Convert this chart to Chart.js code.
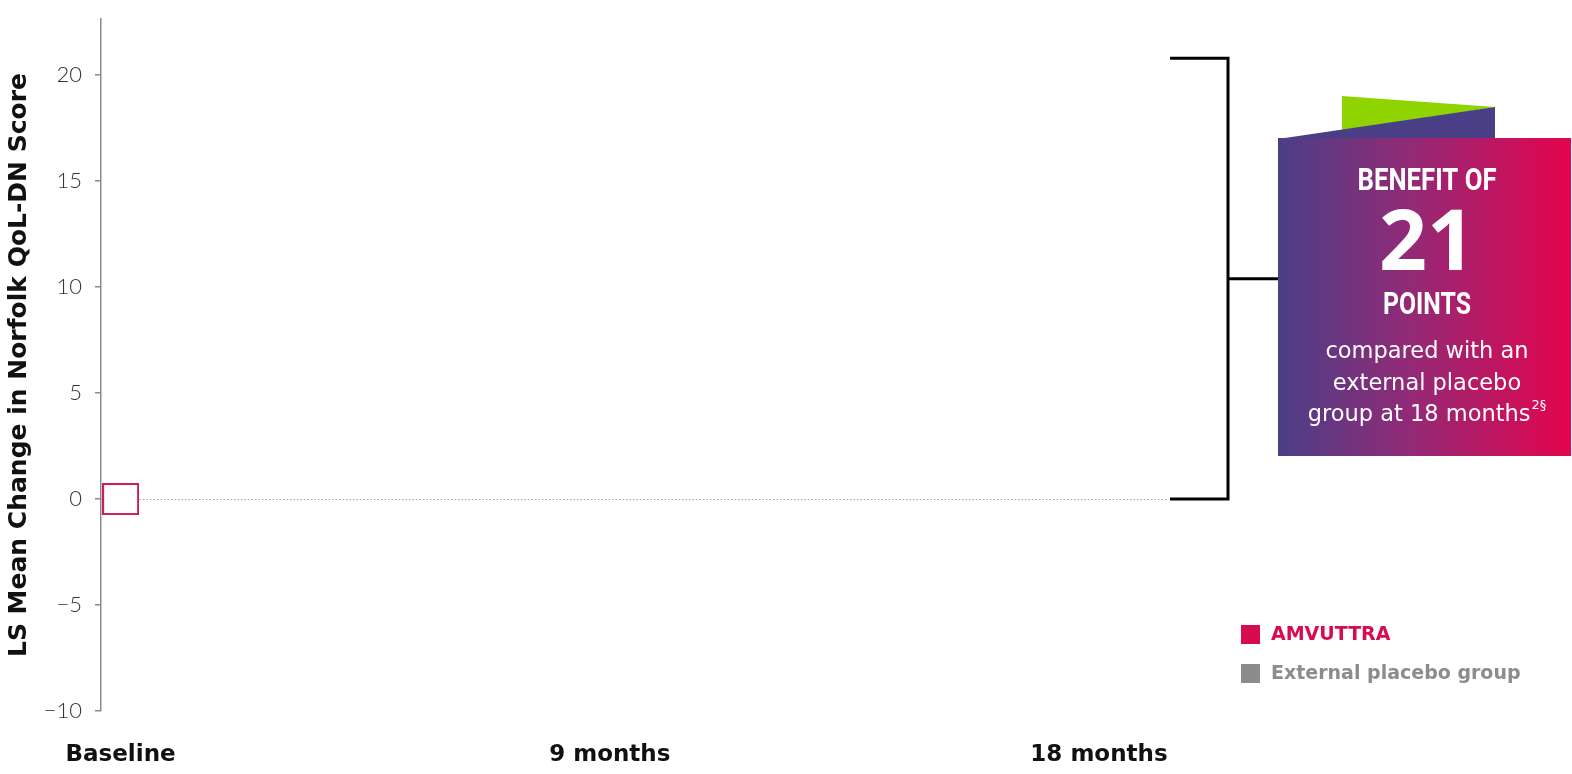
<!DOCTYPE html>
<html>
<head>
<meta charset="utf-8">
<script src="https://cdn.jsdelivr.net/npm/chart.js@4/dist/chart.umd.min.js"></script>
<style>
  html, body { margin: 0; padding: 0; background: #fff; overflow: hidden; }
  #wrap { width: 1572px; height: 774px; position: relative; }
</style>
</head>
<body>
<div id="wrap"><canvas id="grafico"></canvas></div>
<script>
// Dados
const categorias = ['Baseline', '9 months', '18 months'];
const meses = [0, 9, 18];
const amvuttra = [0, null, null];
const placeboExterno = [null, null, null];
const ticksY = [-10, -5, 0, 5, 10, 15, 20];
const faixaBeneficio = [0, 20.8];   // chave: do 0 até o topo
const legendaNomes = ['AMVUTTRA', 'External placebo group'];
const legendaCores = ['#d60b52', '#8c8c8c'];

const toPoints = (vals) => meses.map((m, i) => ({ x: m, y: vals[i] }));

// marcador: quadrado vazado um pouco mais largo que alto
function marcador(cor, cheio) {
    const c = document.createElement('canvas');
    c.width = 37; c.height = 32;
    const g = c.getContext('2d');
    g.fillStyle = cheio ? cor : '#fff';
    g.fillRect(1, 1, 35, 30);
    g.strokeStyle = cor;
    g.lineWidth = 2;
    g.strokeRect(1, 1, 35, 30);
    return c;
}

// Linha pontilhada no zero + chave + caixa + legenda
const anotacoes = {
    id: 'anotacoes',
    beforeDatasetsDraw(chart) {
        const { ctx, chartArea, scales: { y } } = chart;
        const y0 = y.getPixelForValue(0);
        ctx.save();
        ctx.strokeStyle = '#a0a0a0';
        ctx.lineWidth = 1;
        ctx.setLineDash([1.5, 2]);
        ctx.beginPath();
        ctx.moveTo(chartArea.left, y0 + 0.5);
        ctx.lineTo(chartArea.right, y0 + 0.5);
        ctx.stroke();
        ctx.restore();
    },
    afterDraw(chart) {
        const { ctx, chartArea, scales: { y } } = chart;
        const yTop = y.getPixelForValue(faixaBeneficio[1]);
        const yBot = y.getPixelForValue(faixaBeneficio[0]);
        const yMid = (yTop + yBot) / 2;
        const xa = chartArea.right + 2, xb = chartArea.right + 60, xc = chartArea.right + 112;

        // chave
        ctx.save();
        ctx.strokeStyle = '#000';
        ctx.lineWidth = 3;
        ctx.beginPath();
        ctx.moveTo(xa, yTop); ctx.lineTo(xb, yTop); ctx.lineTo(xb, yBot); ctx.lineTo(xa, yBot);
        ctx.moveTo(xb, yMid); ctx.lineTo(xc, yMid);
        ctx.stroke();
        ctx.restore();

        // caixa
        const bx = 1278, by = 138, bw = 293, bh = 318;
        ctx.save();
        ctx.fillStyle = '#8fd400';
        ctx.beginPath();
        ctx.moveTo(1342, 96); ctx.lineTo(1495, 107); ctx.lineTo(1342, 132); ctx.closePath();
        ctx.fill();
        ctx.fillStyle = '#4a3f87';
        ctx.beginPath();
        ctx.moveTo(bx, by + 1); ctx.lineTo(1495, 107); ctx.lineTo(1495, by + 1); ctx.closePath();
        ctx.fill();
        const grad = ctx.createLinearGradient(bx, 0, bx + bw, 0);
        grad.addColorStop(0, '#4a3f87');
        grad.addColorStop(0.45, '#922a76');
        grad.addColorStop(1, '#e5044e');
        ctx.fillStyle = grad;
        ctx.fillRect(bx, by, bw, bh);

        const cx = 1427;
        ctx.fillStyle = '#fff';
        ctx.textAlign = 'center';
        ctx.textBaseline = 'middle';
        const condensado = (txt, size, yy, largura) => {
            ctx.save();
            ctx.font = 'bold ' + size + 'px Roboto';
            const w = ctx.measureText(txt).width;
            ctx.translate(cx, yy);
            ctx.scale(largura / w, 1);
            ctx.fillText(txt, 0, 0);
            ctx.restore();
        };
        condensado('BENEFIT OF', 32, 182, 139);
        ctx.font = 'bold 84px "Open Sans"';
        ctx.fillText('21', cx, 246);
        condensado('POINTS', 32, 306, 88);
        ctx.font = '22.5px "DejaVu Sans"';
        ctx.fillText('compared with an', cx, 352);
        ctx.fillText('external placebo', cx, 384);
        ctx.textAlign = 'left';
        const w3 = ctx.measureText('group at 18 months').width;
        ctx.font = '13px "DejaVu Sans"';
        const ws = ctx.measureText('2§').width;
        const sx = cx - (w3 + ws + 1) / 2;
        ctx.font = '22.5px "DejaVu Sans"';
        ctx.fillText('group at 18 months', sx, 415);
        ctx.font = '13px "DejaVu Sans"';
        ctx.fillText('2§', sx + w3 + 1, 406);
        ctx.restore();

        // legenda
        ctx.save();
        ctx.textAlign = 'left';
        ctx.textBaseline = 'middle';
        ctx.font = 'bold 19px "DejaVu Sans"';
        legendaNomes.forEach((nome, i) => {
            const ly = 634 + i * 39;
            ctx.fillStyle = legendaCores[i];
            ctx.fillRect(1241, ly - 9, 19, 19);
            ctx.fillText(nome, 1271, ly + 1);
        });
        ctx.restore();
    }
};

const grafico = new Chart(
    document.getElementById('grafico'),
    {
        type: 'scatter',
        data: {
            datasets: [
                {
                    label: legendaNomes[0],
                    data: toPoints(amvuttra),
                    pointStyle: marcador('#cc1d5a', false),
                    clip: false,
                    showLine: false,
                },
                {
                    label: legendaNomes[1],
                    data: toPoints(placeboExterno),
                    pointStyle: marcador('#8c8c8c', true),
                    clip: false,
                    showLine: false,
                }
            ]
        },
        options: {
            responsive: true,
            maintainAspectRatio: false,
            animation: false,
            layout: { padding: { top: 19, right: 404, left: 0, bottom: 0 } },
            plugins: { legend: { display: false }, tooltip: { enabled: false } },
            scales: {
                x: {
                    type: 'linear',
                    min: -0.36,
                    max: 19.27,
                    afterBuildTicks: (s) => { s.ticks = meses.map(v => ({ value: v })); },
                    afterFit: (s) => { s.height = 63; },
                    grid: { display: false },
                    border: { display: false },
                    ticks: {
                        autoSkip: false,
                        maxRotation: 0,
                        padding: 22,
                        color: '#111',
                        font: { family: 'DejaVu Sans', weight: 'bold', size: 23 },
                        callback: (v) => categorias[meses.indexOf(v)] ?? ''
                    }
                },
                y: {
                    min: -10,
                    max: 22.65,
                    afterBuildTicks: (s) => { s.ticks = ticksY.map(v => ({ value: v })); },
                    afterFit: (s) => { s.width = 101; s.paddingTop = 0; s.paddingBottom = 0; },
                    grid: { drawOnChartArea: false, tickLength: 6, tickColor: '#8a8a8a', lineWidth: 1.5 },
                    border: { color: '#8a8a8a', width: 1.5 },
                    ticks: {
                        padding: 13,
                        color: '#333',
                        font: { family: 'Lato', weight: '300', size: 22 },
                        callback: (v) => v < 0 ? '\u2212' + Math.abs(v) : String(v)
                    },
                    title: {
                        display: true,
                        text: 'LS Mean Change in Norfolk QoL-DN Score',
                        color: '#111',
                        padding: { top: 4, bottom: 0 },
                        font: { family: 'DejaVu Sans', weight: 'bold', size: 25 }
                    }
                }
            }
        },
        plugins: [anotacoes]
    }
);
</script>
</body>
</html>
